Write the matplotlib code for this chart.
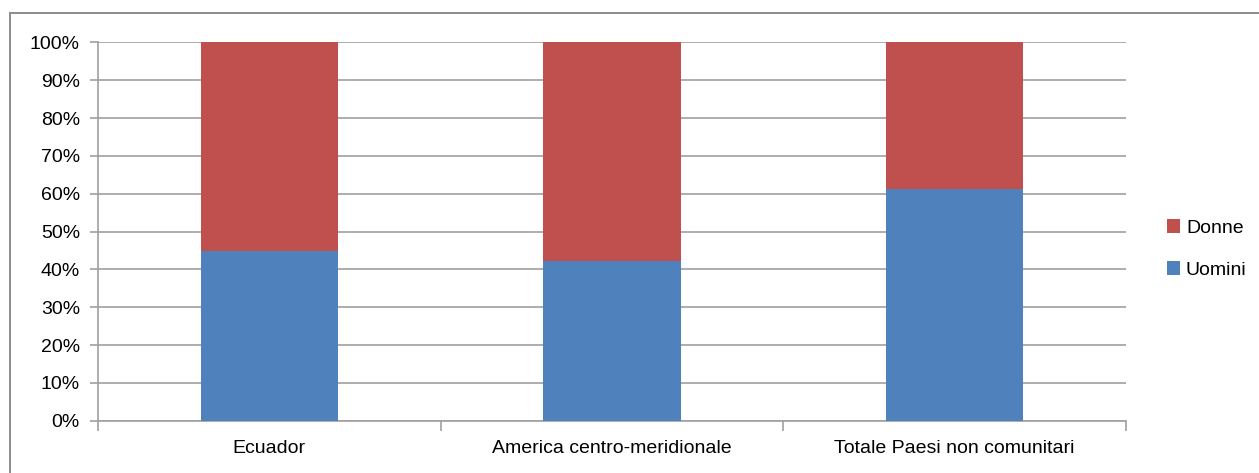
import matplotlib
matplotlib.use("Agg")
import matplotlib.pyplot as plt
from matplotlib.patches import Rectangle
from matplotlib.ticker import FixedLocator, PercentFormatter

plt.rcParams["font.family"] = ["Liberation Sans", "DejaVu Sans"]

categories = ["Ecuador", "America centro-meridionale", "Totale Paesi non comunitari"]
uomini = [44.8, 42.2, 61.3]
donne = [100 - v for v in uomini]

BLUE = "#4F81BD"
RED = "#C0504D"
GRID = "#A0A0A0"
FS = 14

fig = plt.figure(figsize=(12.59, 4.73), dpi=100)
ax = fig.add_axes([98 / 1259, 52.3 / 473, 1028 / 1259, 378.2 / 473])

# outer chart frame
fig.patches.append(Rectangle((10 / 1259, -0.1), 1.2, 1.1 - 12.7 / 473,
                             transform=fig.transFigure, fill=False,
                             edgecolor="#8C8C8C", lw=1.4, zorder=0))

x = range(len(categories))
ax.bar(x, uomini, width=0.4, color=BLUE, label="Uomini", zorder=3)
ax.bar(x, donne, width=0.4, bottom=uomini, color=RED, label="Donne", zorder=3)

ax.set_xlim(-0.5, 2.5)
ax.set_ylim(0, 100)
ax.set_yticks(range(0, 101, 10))
ax.yaxis.set_major_formatter(PercentFormatter(decimals=0))
ax.grid(axis="y", color=GRID, lw=1.2, zorder=0)

# category ticks sit between bars, labels centred under them
ax.xaxis.set_major_locator(FixedLocator([-0.5, 0.5, 1.5, 2.5]))
ax.xaxis.set_major_formatter(plt.NullFormatter())
ax.xaxis.set_minor_locator(FixedLocator(list(x)))
ax.set_xticklabels(categories, minor=True)
ax.tick_params(axis="x", which="major", length=7, color=GRID, width=1.2, direction="out")
ax.tick_params(axis="x", which="minor", length=0, pad=14, labelsize=FS)
ax.tick_params(axis="y", length=6, color=GRID, width=1.2, pad=7, labelsize=FS)

for side in ("top", "right"):
    ax.spines[side].set_visible(False)
for side in ("left", "bottom"):
    ax.spines[side].set_color(GRID)
    ax.spines[side].set_linewidth(1.2)

handles, labels = ax.get_legend_handles_labels()
fig.legend(handles[::-1], labels[::-1], loc="center left",
           bbox_to_anchor=(1149 / 1259, 1 - 249 / 473), frameon=False,
           fontsize=FS, handlelength=0.7, handleheight=0.7,
           handletextpad=0.3, labelspacing=1.25)

fig.savefig("out.png", dpi=100)
